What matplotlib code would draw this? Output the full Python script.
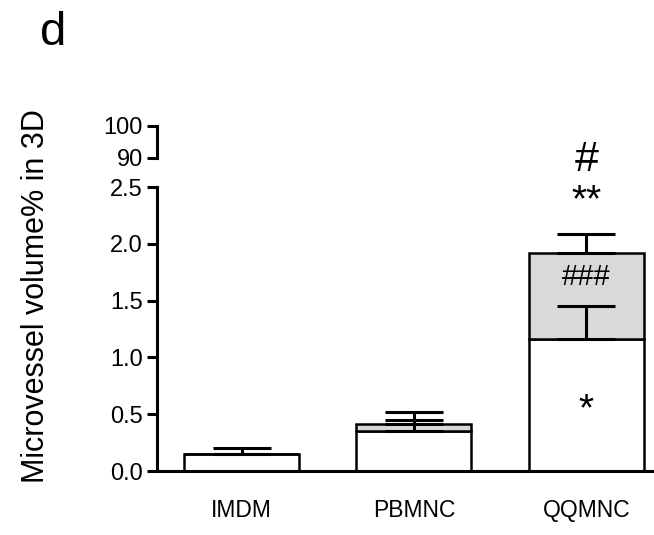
import matplotlib
matplotlib.use("Agg")
import matplotlib.pyplot as plt
from matplotlib.ticker import FixedLocator
import numpy as np

plt.rcParams['font.family'] = ['Liberation Sans', 'DejaVu Sans']

categories = ['IMDM', 'PBMNC', 'QQMNC']
lower_vals = [0.15, 0.35, 1.16]
lower_err = [0.05, 0.10, 0.29]
upper_vals = [0.0, 0.06, 0.76]
upper_err = [0.0, 0.105, 0.17]
yticks = [0.0, 0.5, 1.0, 1.5, 2.0, 2.5]
upper_ticks = [90, 100]
annotations = [  # (category index, y, text, fontsize)
    (2, 0.53, '*', 28),
    (2, 1.71, '###', 21),
    (2, 2.37, '**', 28),
    (2, 2.74, '#', 31),
]

W, H = 654, 535
fig = plt.figure(figsize=(W / 100, H / 100), dpi=100)

L = 157 / W
R = 653 / W
ax = fig.add_axes([L, 1 - 471 / H, R - L, (471 - 187) / H])
axu = fig.add_axes([L, 1 - 157.5 / H, R - L, (157.5 - 126) / H])

lw_axis = 2.2
x = np.arange(len(categories))
width = 0.667
gray = '#d9d9d9'

ax.bar(x, lower_vals, width=width, color='white', edgecolor='black', linewidth=1.8, zorder=2)
ax.bar(x, upper_vals, width=width, bottom=lower_vals, color=gray, edgecolor='black', linewidth=1.8, zorder=2)

capsize = 21
for i in range(len(categories)):
    ax.errorbar(x[i], lower_vals[i], yerr=[[0], [lower_err[i]]], fmt='none', ecolor='black',
                elinewidth=2.2, capsize=capsize, capthick=2.2, zorder=3)
    if upper_vals[i] > 0:
        top = lower_vals[i] + upper_vals[i]
        ax.errorbar(x[i], top, yerr=[[0], [upper_err[i]]], fmt='none', ecolor='black',
                    elinewidth=2.2, capsize=capsize, capthick=2.2, zorder=3)

for (i, yv, t, fs) in annotations:
    ax.text(x[i], yv, t, ha='center', va='center', fontsize=fs, clip_on=False, zorder=4)

ax.set_xlim(-0.49, 2.386)
ax.set_ylim(0, 2.5)
ax.set_yticks(yticks)
ax.set_yticklabels([f'{v:.1f}' for v in yticks])
ax.set_xticks(x)
ax.set_xticklabels(categories, fontsize=16.5)
ax.tick_params(axis='x', length=0, pad=20)
ax.tick_params(axis='y', which='major', direction='out', length=7.2, width=lw_axis, labelsize=17, pad=3)
ax.yaxis.set_minor_locator(FixedLocator([2.5]))
ax.tick_params(axis='y', which='minor', direction='in', length=5, width=lw_axis)
for s in ['top', 'right']:
    ax.spines[s].set_visible(False)
for s in ['left', 'bottom']:
    ax.spines[s].set_linewidth(lw_axis)
ax.set_facecolor('none')

axu.set_ylim(90, 100)
axu.set_xlim(0, 1)
axu.set_yticks(upper_ticks)
axu.set_yticklabels([str(v) for v in upper_ticks])
axu.yaxis.set_minor_locator(FixedLocator([90]))
axu.tick_params(axis='y', which='major', direction='out', length=7.2, width=lw_axis, labelsize=17, pad=3)
axu.tick_params(axis='y', which='minor', direction='in', length=5, width=lw_axis)
axu.set_xticks([])
for s in ['top', 'right', 'bottom']:
    axu.spines[s].set_visible(False)
axu.spines['left'].set_linewidth(lw_axis)
axu.set_facecolor('none')

fig.text(36 / W, 1 - 296 / H, 'Microvessel volume% in 3D', rotation=90, ha='center', va='center', fontsize=22)
fig.text(40 / W, 1 - 45 / H, 'd', ha='left', va='baseline', fontsize=34)

fig.savefig('out.png', dpi=100)
